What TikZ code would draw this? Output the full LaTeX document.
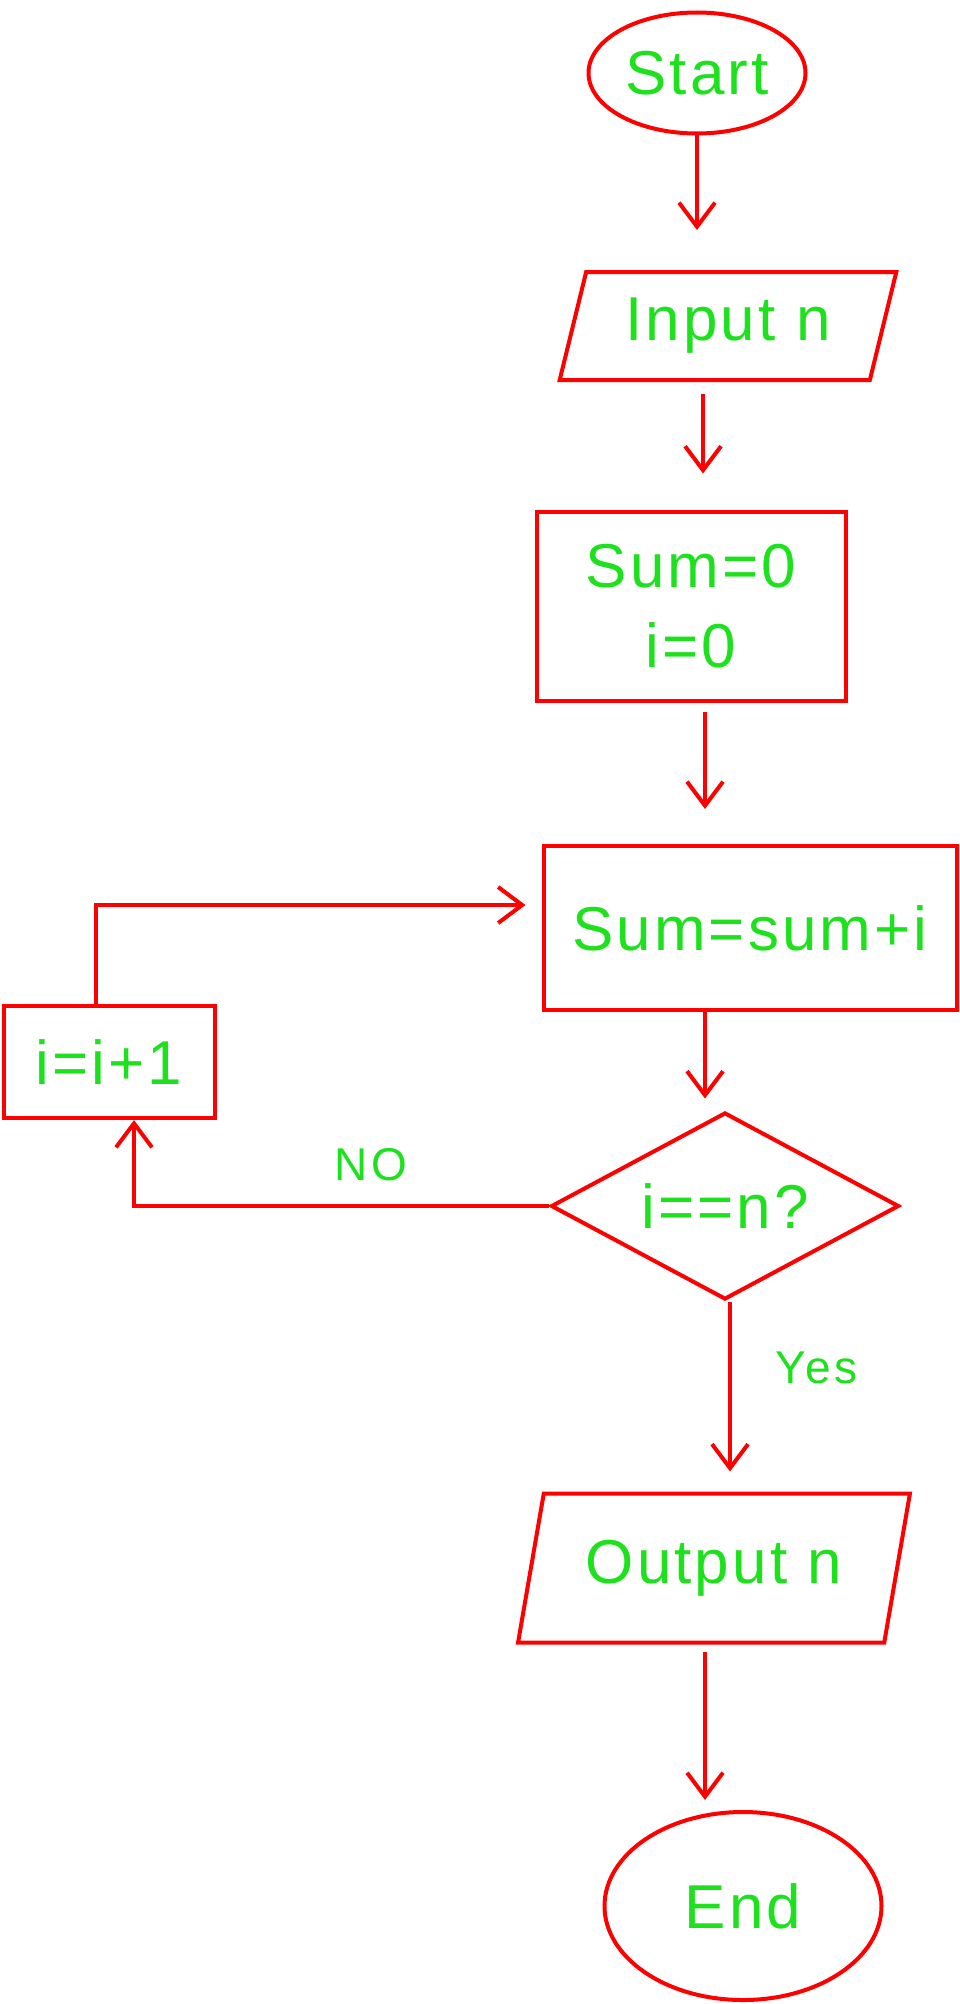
\documentclass[tikz,border=0pt]{standalone}
\usepackage{fontspec}
\setmainfont{Liberation Sans}
\usetikzlibrary{shapes.geometric, arrows.meta}
\definecolor{penred}{RGB}{255,0,0}
\definecolor{pengreen}{RGB}{30,225,30}
\tikzset{
  shape base/.style={draw=penred, line width=4pt, text=pengreen,
    font=\fontsize{62}{80}\selectfont\addfontfeature{LetterSpace=5}},
  terminal/.style={shape base, ellipse, inner sep=0pt},
  io/.style={shape base, trapezium, trapezium left angle=71, trapezium right angle=109,
    trapezium stretches=true, inner sep=0pt},
  process/.style={shape base, rectangle, inner sep=0pt, align=center},
  decision/.style={shape base, diamond, aspect=1.86, inner sep=0pt},
  arr/.style={draw=penred, line width=4pt, -{Straight Barb[length=24pt,width=36pt]}},
  tag/.style={text=pengreen, font=\fontsize{46}{52}\selectfont\addfontfeature{LetterSpace=8}}
}
\begin{document}
\begin{tikzpicture}[x=1pt, y=-1pt]
    \useasboundingbox (0,0) rectangle (960,2004);
    \node[terminal, minimum width=217pt, minimum height=121pt] (start) at (697,73) {Start};
    \node[io, minimum width=337pt, minimum height=108pt] (input) at (728,326) {Input n};
    \node[process, minimum width=309pt, minimum height=189pt] (init) at (691,606) {Sum=0\\i=0};
    \node[process, minimum width=413pt, minimum height=164pt] (update) at (750,928) {Sum=sum+i};
    \node[process, minimum width=211pt, minimum height=112pt] (incr) at (109,1062) {i=i+1};
    \node[decision, minimum width=348pt, minimum height=187pt] (check) at (725,1206) {i==n?};
    \node[io, minimum width=392pt, minimum height=149pt] (output) at (714,1568) {Output n};
    \node[terminal, minimum width=277pt, minimum height=188pt] (end) at (743,1906) {End};

    % main column
    \draw[arr, shorten >=40pt] (start.south) -- (start.south |- input.north);
    \draw[arr, shorten <=12pt, shorten >=36pt] ([xshift=-25pt]input.south) -- ([xshift=-25pt]input.south |- init.north);
    \draw[arr, shorten <=9pt, shorten >=35pt] ([xshift=14pt]init.south) -- ([xshift=14pt]init.south |- update.north);
    \draw[arr, shorten >=12pt] ([xshift=-45pt]update.south) -- ([xshift=-45pt]update.south |- check.north);
    \draw[arr, shorten >=20pt] ([xshift=5pt]check.south) -- node[tag, right, pos=0.35, xshift=40pt] {Yes} ([xshift=5pt]check.south |- output.north);
    \draw[arr, shorten <=7pt, shorten >=10pt] ([xshift=-9pt]output.south) -- ([xshift=-9pt]output.south |- end.north);

    % loop back
    \draw[arr] (check.west) -| node[tag, pos=0.215, above, yshift=20pt] {NO} ([xshift=25pt]incr.south);
    \draw[arr, shorten >=16pt] ([xshift=-13pt]incr.north) |- ([yshift=23pt]update.west);
\end{tikzpicture}
\end{document}
